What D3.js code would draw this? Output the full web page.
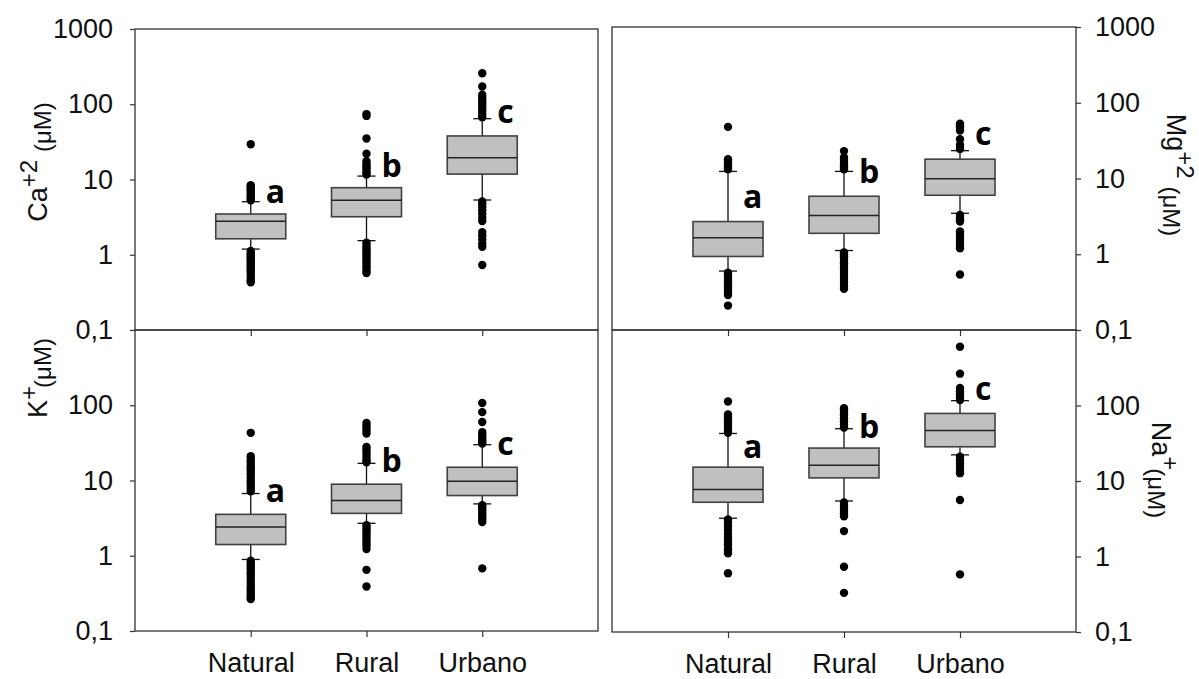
<!DOCTYPE html>
<html>
<head>
<meta charset="utf-8">
<script src="https://cdn.jsdelivr.net/npm/d3@7"></script>
<style>
body { margin: 0; background: #fff; }
svg { display: block; font-family: "Liberation Sans", Arial, sans-serif; }
.axis text { font-size: 27px; fill: #111; }
.axis line { stroke: #333; stroke-width: 1.2; }
.axis path { display: none; }
</style>
</head>
<body>
<div id="chart"></div>
<script>
var categories = ["Natural", "Rural", "Urbano"];
var yTicks = [0.1, 1, 10, 100, 1000];
var yTickLabels = ["0,1", "1", "10", "100", "1000"];
var groupLetters = ["a", "b", "c"];

// box stats per category: [low whisker, q1, median, q3, high whisker]
var caBoxes = [[1.19, 1.63, 2.78, 3.48, 5.07], [1.54, 3.2, 5.29, 7.78, 11.1], [5.34, 11.8, 19.5, 37.9, 64.3]];
var mgBoxes = [[0.6, 0.935, 1.65, 2.7, 12.4], [1.12, 1.89, 3.24, 5.83, 12.4], [3.47, 6.01, 9.91, 18.0, 23.3]];
var kBoxes = [[0.893, 1.41, 2.41, 3.55, 6.71], [2.7, 3.66, 5.41, 8.93, 16.9], [4.89, 6.31, 9.79, 15.0, 29.9]];
var naBoxes = [[3.21, 5.23, 7.69, 15.25, 42.6], [5.44, 11.0, 16.2, 27.3, 49.2], [22.2, 28.4, 46.7, 78.5, 116]];

// outliers per category
var caOutliers = [
	[29.4, 8.4, 8.0, 7.6, 7.2, 6.8, 6.4, 6.0, 5.6, 5.3, 1.12, 1.05, 1.0, 0.95, 0.9, 0.85, 0.8, 0.76, 0.72, 0.68, 0.64, 0.6, 0.56, 0.52, 0.48, 0.45, 0.43],
	[74, 70, 35, 22, 17.5, 16, 15, 14, 13, 12.2, 11.6, 1.45, 1.35, 1.25, 1.15, 1.08, 1.0, 0.94, 0.88, 0.82, 0.76, 0.7, 0.65, 0.6, 0.57],
	[258, 172, 134, 122, 112, 104, 96, 88, 80, 73, 67, 5.1, 4.7, 4.3, 3.9, 3.5, 3.1, 2.8, 2.0, 1.8, 1.6, 1.4, 1.28, 0.73]
];
var mgOutliers = [
	[48, 18, 17, 16, 15, 14, 13.2, 0.57, 0.53, 0.49, 0.45, 0.42, 0.39, 0.36, 0.33, 0.31, 0.29, 0.21],
	[23, 19, 17.5, 16, 15, 14, 13.2, 1.06, 1.0, 0.94, 0.88, 0.82, 0.76, 0.7, 0.65, 0.6, 0.55, 0.5, 0.46, 0.42, 0.38, 0.35],
	[53, 50, 47, 43, 33, 28, 26, 24.5, 3.3, 3.1, 2.9, 2.7, 2.0, 1.85, 1.7, 1.55, 1.42, 1.3, 1.2, 0.54]
];
var kOutliers = [
	[43, 21, 19, 17.5, 16, 15, 14, 13, 12, 11, 10, 9.2, 8.5, 7.8, 7.2, 0.86, 0.8, 0.75, 0.7, 0.65, 0.6, 0.56, 0.52, 0.48, 0.44, 0.4, 0.37, 0.34, 0.32, 0.3, 0.28, 0.265],
	[58, 54, 50, 46, 42, 28, 26, 24, 22, 20, 18.5, 17.5, 2.55, 2.35, 2.2, 2.05, 1.9, 1.75, 1.6, 1.48, 1.36, 1.23, 0.65, 0.39],
	[107, 81, 60, 44, 41, 38, 35, 33, 31, 4.7, 4.4, 4.1, 3.8, 3.5, 3.25, 3.0, 2.8, 0.68]
];
var naOutliers = [
	[113, 76, 70, 64, 59, 54, 50, 46, 43.5, 3.1, 2.8, 2.5, 2.25, 2.0, 1.8, 1.6, 1.45, 1.3, 1.2, 1.1, 0.6],
	[92, 86, 80, 74, 68, 62, 56, 51, 5.2, 4.8, 4.4, 4.0, 3.7, 3.4, 2.17, 0.73, 0.33],
	[600, 264, 171, 155, 140, 128, 118, 21, 19, 17, 15.5, 14, 12.7, 5.6, 0.58]
];

// value at the baseline of each group letter
var caLetterY = [4.83, 10.9, 55.8];
var mgLetterY = [4.04, 8.67, 27.9];
var kLetterY = [5.14, 12.9, 21.5];
var naLetterY = [20.1, 37, 119];

var panels = [
	{ boxes: caBoxes, outliers: caOutliers, letters: caLetterY, left: 135, right: 598, top: 29, bottom: 330, side: "left", xLabels: false, ticks: yTicks,
	  title: ["Ca", "+2", "(\u03bcM)"], tx: 47, ty: 162 },
	{ boxes: mgBoxes, outliers: mgOutliers, letters: mgLetterY, left: 612, right: 1076, top: 27, bottom: 330, side: "right", xLabels: false, ticks: yTicks,
	  title: ["Mg", "+2", "(\u03bcM)"], tx: 1167, ty: 175 },
	{ boxes: kBoxes, outliers: kOutliers, letters: kLetterY, left: 135, right: 598, top: 330, bottom: 631, side: "left", xLabels: true, ticks: yTicks.slice(0, 4),
	  title: ["K", "+", "(\u03bcM)"], tx: 47, ty: 378 },
	{ boxes: naBoxes, outliers: naOutliers, letters: naLetterY, left: 612, right: 1076, top: 330, bottom: 632, side: "right", xLabels: true, ticks: yTicks.slice(0, 4),
	  title: ["Na", "+", "(\u03bcM)"], tx: 1152, ty: 470 }
];

var svg = d3.select("#chart").append("svg")
	.attr("width", 1199)
	.attr("height", 679);

function tickLabel(v) { return yTickLabels[yTicks.indexOf(v)]; }

panels.forEach(function(p)
{
	var x = d3.scalePoint().domain(categories).range([p.left, p.right]).padding(1);
	var y = d3.scaleLog().domain([0.1, 1000]).range([p.bottom, p.top]);
	var g = svg.append("g");

	// frame
	g.append("rect")
		.attr("x", p.left).attr("y", p.top)
		.attr("width", p.right - p.left).attr("height", p.bottom - p.top)
		.attr("fill", "none").attr("stroke", "#333").attr("stroke-width", 1.3);

	// y axis
	var yAxis = (p.side == "left" ? d3.axisLeft(y) : d3.axisRight(y))
		.tickValues(p.ticks).tickFormat(tickLabel)
		.tickSize(5).tickSizeOuter(0)
		.tickPadding(p.side == "left" ? 17 : 14);
	g.append("g")
		.attr("class", "axis")
		.attr("transform", "translate(" + (p.side == "left" ? p.left : p.right) + ",0)")
		.call(yAxis);

	// x axis
	var xAxis = d3.axisBottom(x).tickSize(6).tickSizeOuter(0).tickPadding(16);
	if (!p.xLabels) xAxis.tickFormat("");
	g.append("g")
		.attr("class", "axis")
		.attr("transform", "translate(0," + p.bottom + ")")
		.call(xAxis);

	// boxes
	var bw = 70, cw = 18;
	var box = g.selectAll(".bx").data(p.boxes).enter().append("g").attr("class", "bx");
	box.append("line")
		.attr("x1", function(d, i) { return x(categories[i]); })
		.attr("x2", function(d, i) { return x(categories[i]); })
		.attr("y1", function(d) { return y(d[0]); })
		.attr("y2", function(d) { return y(d[4]); })
		.attr("stroke", "#111").attr("stroke-width", 1.3);
	[0, 4].forEach(function(k)
	{
		box.append("line")
			.attr("x1", function(d, i) { return x(categories[i]) - cw / 2; })
			.attr("x2", function(d, i) { return x(categories[i]) + cw / 2; })
			.attr("y1", function(d) { return y(d[k]); })
			.attr("y2", function(d) { return y(d[k]); })
			.attr("stroke", "#111").attr("stroke-width", 1.3);
	});
	box.append("rect")
		.attr("x", function(d, i) { return x(categories[i]) - bw / 2; })
		.attr("y", function(d) { return y(d[3]); })
		.attr("width", bw)
		.attr("height", function(d) { return y(d[1]) - y(d[3]); })
		.attr("fill", "#c0c0c0").attr("stroke", "#404040").attr("stroke-width", 1.6);
	box.append("line")
		.attr("x1", function(d, i) { return x(categories[i]) - bw / 2; })
		.attr("x2", function(d, i) { return x(categories[i]) + bw / 2; })
		.attr("y1", function(d) { return y(d[2]); })
		.attr("y2", function(d) { return y(d[2]); })
		.attr("stroke", "#222").attr("stroke-width", 1.5);

	// outliers
	p.outliers.forEach(function(list, i)
	{
		g.selectAll(".dot" + i).data(list).enter().append("circle")
			.attr("cx", x(categories[i]))
			.attr("cy", function(d) { return y(d); })
			.attr("r", 4.2)
			.attr("fill", "#000");
	});

	// group letters
	g.selectAll(".letter").data(p.letters).enter().append("text")
		.attr("x", function(d, i) { return x(categories[i]) + 15; })
		.attr("y", function(d) { return y(d); })
		.style("font-family", "'Open Sans', 'DejaVu Sans', sans-serif")
		.style("font-weight", "bold")
		.style("font-size", "32px")
		.text(function(d, i) { return groupLetters[i]; });

	// axis title
	var t = svg.append("text")
		.attr("transform", "translate(" + p.tx + "," + p.ty + ") rotate(" + (p.side == "left" ? -90 : 90) + ")")
		.attr("text-anchor", "middle")
		.attr("fill", "#111");
	t.append("tspan").style("font-size", "27px").text(p.title[0]);
	t.append("tspan").style("font-size", "24px").attr("dy", -10).text(p.title[1]);
	t.append("tspan").style("font-size", "24px").attr("dy", 14)
		.attr("dx", p.title[1].length == 1 ? -2 : 8)
		.text(p.title[2]);
});
</script>
</body>
</html>
